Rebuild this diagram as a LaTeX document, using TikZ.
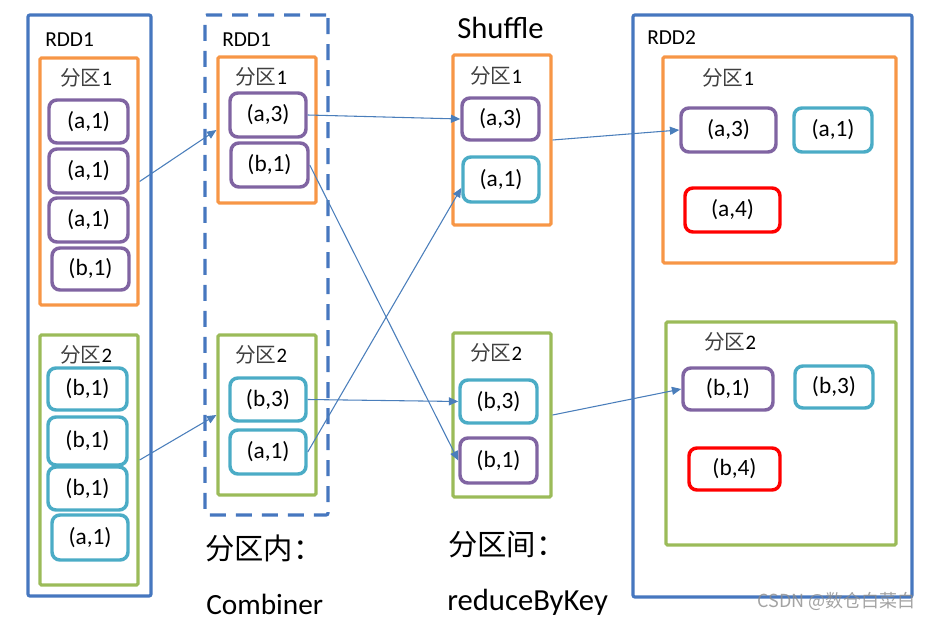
\documentclass[tikz,border=0pt]{standalone}
\usepackage{fontspec}
\setmainfont{Carlito}
\newfontfamily\cjk{Noto Sans CJK SC}
\usetikzlibrary{fit,arrows.meta}
\definecolor{rddblue}{HTML}{4677BF}
\definecolor{partorange}{HTML}{F79646}
\definecolor{partgreen}{HTML}{9BBB59}
\definecolor{itempurple}{HTML}{8064A2}
\definecolor{itemcyan}{HTML}{4BACC6}
\definecolor{itemred}{HTML}{FF0000}
\definecolor{arrowblue}{HTML}{4A7EBB}
\definecolor{cjkgray}{HTML}{404040}
\newcommand{\fq}[1]{{\color{cjkgray}\cjk 分区}#1}
\begin{document}
\begin{tikzpicture}[x=0.75pt,y=-0.75pt,
  outerbox/.style={draw=rddblue, line width=2.4pt, rounded corners=1.5pt, inner sep=0pt},
  dashbox/.style={outerbox, dash pattern=on 12pt off 7.5pt},
  orbox/.style={draw=partorange, line width=2.4pt, rounded corners=1pt, inner sep=0pt},
  grbox/.style={draw=partgreen, line width=2.4pt, rounded corners=1pt, inner sep=0pt},
  itemtext/.style={inner sep=0pt, font=\fontsize{17.5}{20}\selectfont},
  item/.style={line width=2.6pt, rounded corners=6pt, inner sep=0pt, label={[itemtext]center:{#1}}},
  pu/.style={item={#1}, draw=itempurple},
  cy/.style={item={#1}, draw=itemcyan},
  rd/.style={item={#1}, draw=itemred},
  rddlab/.style={anchor=west, inner sep=0pt, font=\fontsize{16}{18}\selectfont},
  plab/.style={anchor=west, inner sep=0pt, font=\fontsize{15.5}{18}\selectfont},
  big/.style={anchor=west, inner sep=0pt, font=\fontsize{22}{25}\selectfont},
  conn/.style={draw=arrowblue, line width=0.8pt, -{Triangle[length=7pt,width=6pt]}}
]
\useasboundingbox (0,0) rectangle (940,620);

% ---------- left RDD1 ----------
\node[outerbox, fit={(28,15) (151,596)}] (rddA) {};
\node[rddlab] (rddAlab) at (45,40) {RDD1};
\node[orbox, fit={(40,58) (138,305)}] (lp1) {};
\node[plab] (lp1lab) at (60,78) {\fq{1}};
\node[pu={(a,1)}, fit={(49,100) (128,143)}] (la1) {};
\node[pu={(a,1)}, fit={(49,149) (128,193)}] (la2) {};
\node[pu={(a,1)}, fit={(49,198) (128,242)}] (la3) {};
\node[pu={(b,1)}, fit={(52,248) (129,290)}] (lb1) {};
\node[grbox, fit={(40,335) (138,585)}] (lp2) {};
\node[plab] (lp2lab) at (60,355) {\fq{2}};
\node[cy={(b,1)}, fit={(48,368) (127,410)}] (lb2) {};
\node[cy={(b,1)}, fit={(48,417) (127,465)}] (lb3) {};
\node[cy={(b,1)}, fit={(48,467) (127,510)}] (lb4) {};
\node[cy={(a,1)}, fit={(52,515) (128,560)}] (la4) {};

% ---------- combiner RDD1 ----------
\node[dashbox, fit={(205,15) (328,515)}] (rddB) {};
\node[rddlab] (rddBlab) at (222,40) {RDD1};
\node[orbox, fit={(218,57) (316,203)}] (cp1) {};
\node[plab] (cp1lab) at (235,77) {\fq{1}};
\node[pu={(a,3)}, fit={(230,93) (306,137)}] (ca3) {};
\node[pu={(b,1)}, fit={(231,143) (308,187)}] (cb1) {};
\node[grbox, fit={(218,335) (316,495)}] (cp2) {};
\node[plab] (cp2lab) at (235,355) {\fq{2}};
\node[cy={(b,3)}, fit={(230,378) (306,421)}] (cb3) {};
\node[cy={(a,1)}, fit={(230,430) (306,474)}] (ca1) {};
\node[big] (innerlab) at (205,548) {\cjk 分区内：};
\node[big] (combiner) at (206,604) {Combiner};

% ---------- shuffle ----------
\node[anchor=west, inner sep=0pt, font=\fontsize{23}{26}\selectfont] (shuf) at (457,28) {Shuffle};
\node[orbox, fit={(453,55) (551,225)}] (sp1) {};
\node[plab] (sp1lab) at (470,76) {\fq{1}};
\node[pu={(a,3)}, fit={(462,98) (539,140)}] (sa3) {};
\node[cy={(a,1)}, fit={(463,157) (539,202)}] (sa1) {};
\node[grbox, fit={(453,333) (551,497)}] (sp2) {};
\node[plab] (sp2lab) at (470,353) {\fq{2}};
\node[cy={(b,3)}, fit={(460,380) (537,423)}] (sb3) {};
\node[pu={(b,1)}, fit={(460,438) (537,483)}] (sb1) {};
\node[big] (interlab) at (448,545) {\cjk 分区间：};
\node[anchor=west, inner sep=0pt, font=\fontsize{23}{26}\selectfont] (rbk) at (447,602) {reduceByKey};

% ---------- RDD2 ----------
\node[outerbox, fit={(633,15) (912,597)}] (rddC) {};
\node[rddlab] (rddClab) at (647,38) {RDD2};
\node[orbox, fit={(663,57) (896,263)}] (rp1) {};
\node[plab] (rp1lab) at (702,78) {\fq{1}};
\node[pu={(a,3)}, fit={(681,108) (776,152)}] (ra3) {};
\node[cy={(a,1)}, fit={(794,108) (872,152)}] (ra1) {};
\node[rd={(a,4)}, fit={(685,188) (780,232)}] (ra4) {};
\node[grbox, fit={(666,322) (896,545)}] (rp2) {};
\node[plab] (rp2lab) at (704,342) {\fq{2}};
\node[pu={(b,1)}, fit={(683,368) (773,410)}] (rb1) {};
\node[cy={(b,3)}, fit={(795,366) (873,408)}] (rb3) {};
\node[rd={(b,4)}, fit={(689,448) (780,490)}] (rb4) {};

% ---------- connectors ----------
\draw[conn] (lp1.east) -- (cp1.west);
\draw[conn] (lp2.east) -- (cp2.west);
\draw[conn] (ca3.east) -- (sa3.west);
\draw[conn] (cb1.east) -- (sb1.west);
\draw[conn] (cb3.east) -- (sb3.west);
\draw[conn] (ca1.east) -- (sa1.192);
\draw[conn] (sp1.east) -- (ra3.west);
\draw[conn] (sp2.east) -- (rb1.west);

% ---------- watermark ----------
\node[anchor=west, inner sep=0pt, text=black!45, opacity=0.8, font=\cjk\fontsize{13.5}{16}\selectfont] (wm) at (757,601) {CSDN @数仓白菜白};
\end{tikzpicture}
\end{document}
